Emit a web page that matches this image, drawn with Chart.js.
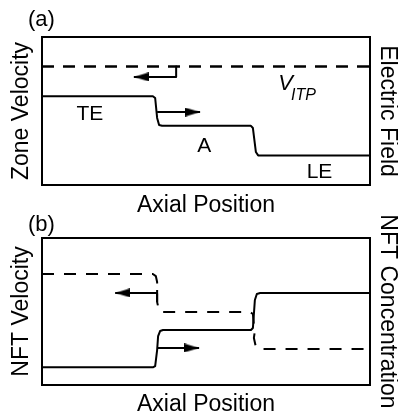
<!DOCTYPE html>
<html>
<head>
<meta charset="utf-8">
<script src="https://cdn.jsdelivr.net/npm/chart.js@4.4.0/dist/chart.umd.min.js"></script>
<style>
  body { margin: 0; background: #fff; width: 398px; height: 414px; overflow: hidden; position: relative; }
  #chartA { position: absolute; left: 0; top: 0; }
  #chartB { position: absolute; left: 0; top: 215px; }
</style>
</head>
<body>
<canvas id="chartA" width="398" height="220"></canvas>
<canvas id="chartB" width="398" height="199"></canvas>
<script>
// ---- panel (a): zone velocity / electric field ----
var fieldX = [0, 100];
var fieldY = [80, 80];
var zoneX = [0, 33.8, 34.5, 35.1, 35.7, 36.6, 63.7, 64.3, 65.2, 65.9, 66.8, 100];
var zoneY = [60, 60, 58.8, 45.3, 40.5, 40, 40, 38.5, 22.3, 20, 20, 20];
var arrowLeftAX = [40.9, 40.9, 28];
var arrowLeftAY = [80, 73, 73];
var arrowRightAX = [35.1, 48.2];
var arrowRightAY = [49.3, 49.3];
var zoneLabels = ['TE', 'A', 'LE'];
var zoneLabelX = [14.6, 49.5, 84.6];
var zoneLabelY = [43.9, 22.3, 4.7];

// ---- panel (b): NFT velocity / NFT concentration ----
var velX = [0, 33.8, 34.7, 35.1, 35.1, 35.7, 36.6, 63.4, 64.3, 64.6, 64.9, 64.6, 65.2, 66.2, 100];
var velY = [75.5, 75.5, 74.1, 70.1, 56.5, 50.3, 49.7, 49.7, 48.3, 40.8, 36.7, 32, 25.9, 24.5, 24.5];
var concX = [0, 33.8, 34.5, 35.1, 35.4, 36, 36.9, 63.7, 64.3, 64.9, 65.5, 66.5, 100];
var concY = [12, 12, 12.9, 23.8, 33.3, 36.7, 37.4, 37.4, 38.8, 57.8, 61.9, 62.6, 62.6];
var arrowLeftBX = [35.1, 35.1, 35.1, 35.1, 22.3];
var arrowLeftBY = [56.5, 64.6, null, 62.6, 62.6];
var arrowRightBX = [35.1, 47.9];
var arrowRightBY = [25.2, 25.2];

var FONT = "'Liberation Sans', Arial, sans-serif";
Chart.defaults.font.family = FONT;
Chart.defaults.color = '#000';

function pts(xs, ys) {
  return xs.map(function(x, i) { return { x: x, y: ys[i] }; });
}

// arrow head image; tip sits at the centre so it lands on the data point
function makeHead(len, wid) {
  var c = document.createElement('canvas');
  c.width = len * 2;
  c.height = wid;
  var g = c.getContext('2d');
  g.fillStyle = '#000';
  g.beginPath();
  g.moveTo(0, 0);
  g.lineTo(len, wid / 2);
  g.lineTo(0, wid);
  g.closePath();
  g.fill();
  return c;
}
var head = makeHead(15, 9);

function lineSet(data, width, dash) {
  return {
    data: data,
    borderColor: '#000',
    borderWidth: width,
    borderDash: dash || [],
    borderJoinStyle: 'round',
    fill: false,
    tension: 0,
    pointRadius: 0
  };
}

function arrowSet(data, rot) {
  var ds = lineSet(data, 2);
  ds.pointStyle = head;
  ds.pointRotation = rot;
  ds.pointRadius = function(ctx) {
    return ctx.dataIndex === ctx.dataset.data.length - 1 ? 4 : 0;
  };
  return ds;
}

function titleOpt(text, pad) {
  return { display: true, text: text, color: '#000', padding: pad,
           font: { size: 23, lineHeight: 1 } };
}

function scalesFor(leftText, rightText, bottomPad) {
  var hidden = { display: false };
  var noGrid = { display: false, drawTicks: false };
  var border = { display: true, color: '#000', width: 2 };
  return {
    x: { type: 'linear', position: 'bottom', min: 0, max: 100, ticks: hidden, grid: noGrid, border: border,
         title: titleOpt('Axial Position', bottomPad) },
    x2: { type: 'linear', position: 'top', min: 0, max: 100, ticks: hidden, grid: noGrid, border: border },
    y: { type: 'linear', position: 'left', min: 0, max: 100, ticks: hidden, grid: noGrid, border: border,
         title: titleOpt(leftText, { top: 9.8, bottom: 9.2 }) },
    y2: { type: 'linear', position: 'right', min: 0, max: 100, ticks: hidden, grid: noGrid, border: border,
          title: titleOpt(rightText, { top: -1.2, bottom: 6.2 }) }
  };
}

// panel letter plus in-plot text
function textPlugin(letter, letterY, extra) {
  return {
    id: 'texts',
    afterDatasetsDraw: function(chart) {
      var ctx = chart.ctx;
      ctx.save();
      ctx.fillStyle = '#000';
      ctx.textBaseline = 'alphabetic';
      ctx.textAlign = 'left';
      ctx.font = '22px ' + FONT;
      ctx.fillText(letter, 28, letterY);
      if (extra) extra(chart, ctx);
      ctx.restore();
    }
  };
}

new Chart(document.getElementById('chartA'), {
  type: 'line',
  data: {
    datasets: [
      lineSet(pts(fieldX, fieldY), 2.5, [12, 9]),
      lineSet(pts(zoneX, zoneY), 2),
      arrowSet(pts(arrowLeftAX, arrowLeftAY), 180),
      arrowSet(pts(arrowRightAX, arrowRightAY), 0)
    ]
  },
  options: {
    responsive: false,
    animation: false,
    events: [],
    layout: { padding: { top: 37, left: 0, right: 0, bottom: 0 } },
    plugins: { legend: { display: false }, tooltip: { enabled: false } },
    scales: scalesFor('Zone Velocity', 'Electric Field', { top: 8.8, bottom: 3.2 })
  },
  plugins: [textPlugin('(a)', 26, function(chart, ctx) {
    var xs = chart.scales.x, ys = chart.scales.y;
    ctx.textAlign = 'center';
    ctx.font = '21px ' + FONT;
    zoneLabels.forEach(function(t, i) {
      ctx.fillText(t, xs.getPixelForValue(zoneLabelX[i]), ys.getPixelForValue(zoneLabelY[i]));
    });
    ctx.textAlign = 'left';
    ctx.font = 'italic 22px ' + FONT;
    ctx.fillText('V', xs.getPixelForValue(72), ys.getPixelForValue(64.2));
    ctx.font = 'italic 16px ' + FONT;
    ctx.fillText('ITP', xs.getPixelForValue(75.9), ys.getPixelForValue(57.4));
  })]
});

new Chart(document.getElementById('chartB'), {
  type: 'line',
  data: {
    datasets: [
      lineSet(pts(velX, velY), 2, [12, 10]),
      lineSet(pts(concX, concY), 2),
      arrowSet(pts(arrowLeftBX, arrowLeftBY), 180),
      arrowSet(pts(arrowRightBX, arrowRightBY), 0)
    ]
  },
  options: {
    responsive: false,
    animation: false,
    events: [],
    layout: { padding: { top: 23, left: 0, right: 0, bottom: 0 } },
    plugins: { legend: { display: false }, tooltip: { enabled: false } },
    scales: scalesFor('NFT Velocity', 'NFT Concentration', { top: 8.5, bottom: -2.5 })
  },
  plugins: [textPlugin('(b)', 16)]
});
</script>
</body>
</html>
